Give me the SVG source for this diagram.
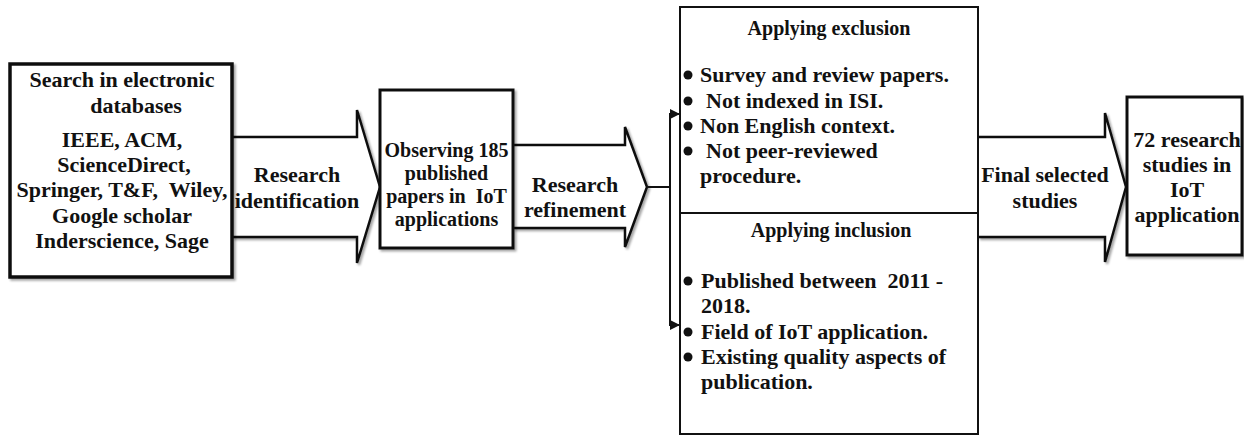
<svg xmlns="http://www.w3.org/2000/svg" width="1244" height="436" viewBox="0 0 1244 436">
<style>
  .t{font-family:"Liberation Serif","Times New Roman",serif;font-weight:bold;fill:#111;}
  .c{text-anchor:middle;}
  .f22{font-size:22px;}
  .f20{font-size:20px;}
  .box{fill:#fff;stroke:#111;stroke-width:3;}
  .thin{fill:#fff;stroke:#111;stroke-width:2;}
  .arr{fill:#fff;stroke:#111;stroke-width:2.5;stroke-linejoin:miter;}
  .ln{fill:none;stroke:#111;stroke-width:2;}
  .dot{fill:#111;}
</style>
<defs>
  <filter id="sh" x="-10%" y="-10%" width="130%" height="130%">
    <feDropShadow dx="2" dy="2" stdDeviation="1.2" flood-color="#000" flood-opacity="0.35"/>
  </filter>
  <marker id="ah" markerUnits="userSpaceOnUse" markerWidth="10" markerHeight="10" viewBox="0 0 10 10" refX="10" refY="5" orient="auto-start-reverse">
    <path d="M0,0 L10,5 L0,10 Z" fill="#111"/>
  </marker>
</defs>
<rect width="1244" height="436" fill="#fff"/>

<g id="connectors">
  <path class="arr" filter="url(#sh)" d="M232,137 H357 V110 L380,187 L357,263 V237 H232"/>
  <path class="arr" filter="url(#sh)" d="M513,145 H625 V127 L647,187 L625,247 V228 H513"/>
  <path class="arr" filter="url(#sh)" d="M978,137 H1105 V113 L1126,187 L1105,262 V237 H978"/>
  <path class="ln" d="M647,187 H670"/>
  <path class="ln" d="M680,114 H670 V325 H680" marker-start="url(#ah)" marker-end="url(#ah)"/>
  <text class="t f22 c" x="297" y="182">Research</text>
  <text class="t f22 c" x="297" y="208">identification</text>
  <text class="t f22 c" x="575" y="192">Research</text>
  <text class="t f22 c" x="575" y="217">refinement</text>
  <text class="t f22 c" x="1045" y="182">Final selected</text>
  <text class="t f22 c" x="1045" y="208">studies</text>
</g>

<g id="search">
  <rect class="box" filter="url(#sh)" x="10" y="64" width="222" height="213" style="stroke-width:3.5"/>
  <text class="t f22 c" x="122" y="87">Search in electronic</text>
  <text class="t f22 c" x="136" y="113">databases</text>
  <text class="t f22 c" x="122" y="147">IEEE, ACM,</text>
  <text class="t f22 c" x="124" y="172">ScienceDirect,</text>
  <text class="t f22 c" x="122" y="197" xml:space="preserve">Springer, T&amp;F,  Wiley,</text>
  <text class="t f22 c" x="122" y="223">Google scholar</text>
  <text class="t f22 c" x="122" y="248">Inderscience, Sage</text>
</g>

<g id="observing">
  <rect class="box" filter="url(#sh)" x="380" y="90" width="133" height="158"/>
  <text class="t f20 c" x="446.5" y="157">Observing 185</text>
  <text class="t f20 c" x="446.5" y="180">published</text>
  <text class="t f20 c" x="446.5" y="203" xml:space="preserve">papers in  IoT</text>
  <text class="t f20 c" x="446.5" y="226">applications</text>
</g>

<g id="criteria">
  <rect class="thin" x="680" y="7" width="298" height="427"/>
  <line x1="680" y1="213" x2="978" y2="213" stroke="#111" stroke-width="2"/>
  <text class="t f20 c" x="829" y="35">Applying exclusion</text>
  <circle class="dot" cx="688" cy="75" r="4.5"/>
  <text class="t f22" x="700" y="82">Survey and review papers.</text>
  <circle class="dot" cx="688" cy="101" r="4.5"/>
  <text class="t f22" x="706" y="108">Not indexed in ISI.</text>
  <circle class="dot" cx="688" cy="126" r="4.5"/>
  <text class="t f22" x="700" y="133">Non English context.</text>
  <circle class="dot" cx="688" cy="151" r="4.5"/>
  <text class="t f22" x="706" y="158">Not peer-reviewed</text>
  <text class="t f22" x="700" y="183">procedure.</text>

  <text class="t f20 c" x="831" y="237">Applying inclusion</text>
  <circle class="dot" cx="688" cy="281" r="4.5"/>
  <text class="t f22" x="701" y="288" xml:space="preserve">Published between  2011 -</text>
  <text class="t f22" x="701" y="313">2018.</text>
  <circle class="dot" cx="688" cy="332" r="4.5"/>
  <text class="t f22" x="701" y="339">Field of IoT application.</text>
  <circle class="dot" cx="688" cy="357" r="4.5"/>
  <text class="t f22" x="701" y="364">Existing quality aspects of</text>
  <text class="t f22" x="701" y="389">publication.</text>
</g>

<g id="result">
  <rect class="box" filter="url(#sh)" x="1127" y="97" width="115" height="158"/>
  <text class="t f22 c" x="1187" y="147">72 research</text>
  <text class="t f22 c" x="1187" y="172">studies in</text>
  <text class="t f22 c" x="1187" y="197">IoT</text>
  <text class="t f22 c" x="1187" y="222">application</text>
</g>
</svg>
